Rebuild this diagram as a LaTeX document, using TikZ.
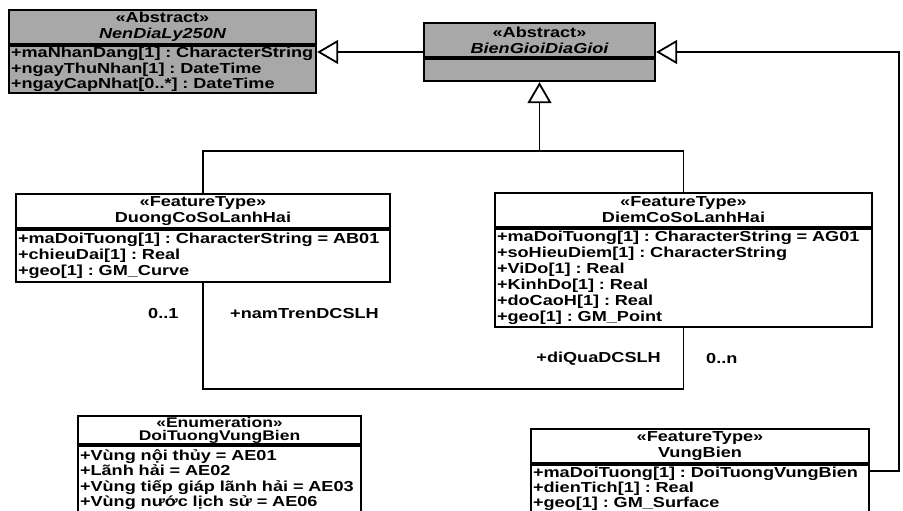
\documentclass[tikz,border=0pt]{standalone}
\usepackage{fontspec}
\setmainfont[FakeStretch=1.25]{Liberation Sans}
\usetikzlibrary{arrows.meta,fit,calc}

\definecolor{shade}{gray}{0.66}

\tikzset{
  every node/.style={font=\fontsize{14.5}{16}\selectfont\bfseries\frenchspacing},
  hdr/.style={draw, line width=2pt, anchor=north west, inner sep=0pt, align=center},
  body/.style={draw, line width=2pt, anchor=north west, inner xsep=2pt, inner ysep=1pt, align=left},
  whole/.style={inner sep=0pt},
  conn/.style={line width=1.8pt},
  gen/.style={conn, -{Triangle[open, length=21pt, width=24pt, fill=white]}},
  lbl/.style={inner sep=0pt}
}

\begin{document}
\begin{tikzpicture}[x=1pt,y=-1pt]
\useasboundingbox (0,0) rectangle (903,511);

% abstract root class
\node[hdr, fill=shade, minimum width=307pt, minimum height=34pt] (ndh) at (8,9)
  {«Abstract»\\\itshape NenDiaLy250N};
\node[body, fill=shade, text width=303pt, minimum height=47pt,
      font=\fontsize{14.5}{15.5}\selectfont\bfseries\frenchspacing] (ndb) at (ndh.south west)
  {+maNhanDang[1] : CharacterString\\+ngayThuNhan[1] : DateTime\\+ngayCapNhat[0..*] : DateTime};
\node[whole, fit=(ndh)(ndb)] (nd) {};

% abstract border class
\node[hdr, fill=shade, minimum width=231pt, minimum height=34pt] (bgh) at (423,22)
  {«Abstract»\\\itshape BienGioiDiaGioi};
\node[body, fill=shade, text width=227pt, minimum height=22pt] (bgb) at (bgh.south west) {};
\node[whole, fit=(bgh)(bgb)] (bg) {};

% baseline line feature
\node[hdr, fill=white, minimum width=374pt, minimum height=34pt] (duh) at (15,193)
  {«FeatureType»\\DuongCoSoLanhHai};
\node[body, fill=white, text width=370pt, minimum height=52pt] (dub) at (duh.south west)
  {+maDoiTuong[1] : CharacterString = AB01\\+chieuDai[1] : Real\\+geo[1] : GM\_Curve};
\node[whole, fit=(duh)(dub)] (du) {};

% baseline point feature
\node[hdr, fill=white, minimum width=377pt, minimum height=34pt] (dch) at (494,192)
  {«FeatureType»\\DiemCoSoLanhHai};
\node[body, fill=white, text width=373pt, minimum height=98pt] (dcb) at (dch.south west)
  {+maDoiTuong[1] : CharacterString = AG01\\+soHieuDiem[1] : CharacterString\\+ViDo[1] : Real\\+KinhDo[1] : Real\\+doCaoH[1] : Real\\+geo[1] : GM\_Point};
\node[whole, fit=(dch)(dcb)] (dc) {};

% enumeration of sea zones
\node[hdr, fill=white, minimum width=283pt, minimum height=28pt,
      font=\fontsize{14}{13}\selectfont\bfseries] (enh) at (77,415)
  {«Enumeration»\\DoiTuongVungBien};
\node[body, fill=white, text width=279pt, minimum height=67pt,
      font=\fontsize{14.5}{15.5}\selectfont\bfseries\frenchspacing] (enb) at (enh.south west)
  {+Vùng nội thủy = AE01\\+Lãnh hải = AE02\\+Vùng tiếp giáp lãnh hải = AE03\\+Vùng nước lịch sử = AE06};

% sea zone feature
\node[hdr, fill=white, minimum width=338pt, minimum height=34pt] (vbh) at (530,428)
  {«FeatureType»\\VungBien};
\node[body, fill=white, text width=334pt, minimum height=47pt,
      font=\fontsize{14.5}{14.8}\selectfont\bfseries\frenchspacing] (vbb) at (vbh.south west)
  {+maDoiTuong[1] : DoiTuongVungBien\\+dienTich[1] : Real\\+geo[1] : GM\_Surface};

% generalisations
\draw[gen] (bg.west) -- (bg.west -| nd.east);
\coordinate (bar) at (0,151);
\draw[conn] (du.north) |- (bar -| dc.north) -- (dc.north);
\draw[gen] (bar -| bg.south) -- (bg.south);
\coordinate (vbport) at ($(vbb.north east)+(0,7)$);
\coordinate (rc) at (899,0);
\draw[gen] (vbport) -| (rc |- bg.east) -- (bg.east);

% association between line and point
\coordinate (low) at (0,389);
\draw[conn] (du.south) |- (low -| dc.south) -- (dc.south);
\node[lbl, anchor=west] (m1) at (148,314) {0..1};
\node[lbl, anchor=west] (r1) at (230,314) {+namTrenDCSLH};
\node[lbl, anchor=east] (r2) at (661,359) {+diQuaDCSLH};
\node[lbl, anchor=west] (m2) at (706,359) {0..n};
\end{tikzpicture}
\end{document}
